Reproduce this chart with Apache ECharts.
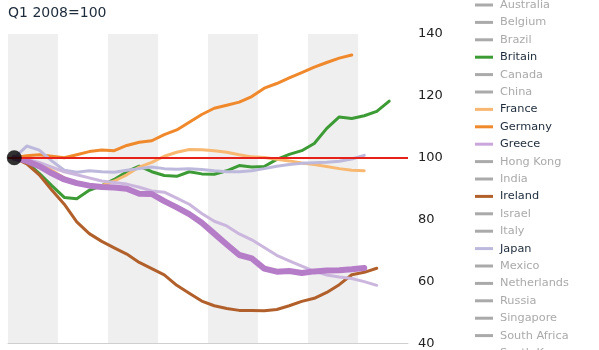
<!DOCTYPE html>
<html>
<head>
<meta charset="utf-8">
<script src="https://cdn.jsdelivr.net/npm/echarts@6/dist/echarts.min.js"></script>
<style>
  html, body { margin: 0; padding: 0; background: #fff; }
  #chart { width: 599px; height: 350px; }
</style>
</head>
<body>
<div id="chart"></div>
<script>
// quarters, Q1 2008 = 100
var quarters = [
  '2008 Q1', '2008 Q2', '2008 Q3', '2008 Q4', '2009 Q1', '2009 Q2', '2009 Q3', '2009 Q4',
  '2010 Q1', '2010 Q2', '2010 Q3', '2010 Q4', '2011 Q1', '2011 Q2', '2011 Q3', '2011 Q4',
  '2012 Q1', '2012 Q2', '2012 Q3', '2012 Q4', '2013 Q1', '2013 Q2', '2013 Q3', '2013 Q4',
  '2014 Q1', '2014 Q2', '2014 Q3', '2014 Q4', '2015 Q1', '2015 Q2', '2015 Q3', '2015 Q4'
]

var countries = ['Australia', 'Belgium', 'Brazil', 'Britain', 'Canada', 'China', 'France', 'Germany',
  'Greece', 'Hong Kong', 'India', 'Ireland', 'Israel', 'Italy', 'Japan', 'Mexico', 'Netherlands',
  'Russia', 'Singapore', 'South Africa', 'South Korea', 'Spain', 'Sweden', 'Switzerland', 'United States']

var shown = ['Britain', 'France', 'Germany', 'Greece', 'Ireland', 'Japan', 'Spain']

var britain = [100, 98.5, 95, 91, 87.2, 86.8, 89.5, 91, 93, 95.5, 97.3, 95.5, 94.3, 94, 95.5, 94.8,
  94.7, 95.8, 97.5, 97, 97.2, 99.5, 101.1, 102.3, 104.6, 109.5, 113.2, 112.7, 113.6, 115, 118.3]
var france = [100, 99.5, 98, 96, 93.5, 92, 91, 91, 92.5, 94.5, 97, 98.5, 100.5, 101.8, 102.7, 102.6,
  102.3, 101.8, 101, 100.3, 100.1, 99.5, 99, 98.3, 97.8, 97.2, 96.5, 96, 95.8]
var germany = [100, 100.7, 101, 100.5, 100, 101, 102, 102.5, 102.3, 104, 105, 105.5, 107.5, 109, 111.5, 114,
  116, 117, 118, 119.8, 122.5, 124, 125.8, 127.5, 129.3, 130.8, 132.2, 133.2]
var greece = [100, 99, 97.3, 95, 93, 91.8, 91, 90.6, 90.4, 90, 88.4, 88.3, 86, 84, 81.8, 79,
  75.5, 72, 68.6, 67.5, 64.2, 63.2, 63.4, 62.8, 63.3, 63.6, 63.7, 64, 64.4]
var ireland = [100, 98, 94.5, 89.6, 85, 79.3, 75.5, 73, 70.9, 68.9, 66.2, 64.2, 62.2, 58.8, 56.2, 53.7,
  52.2, 51.3, 50.7, 50.7, 50.6, 51, 52.2, 53.6, 54.6, 56.5, 59, 62.2, 63, 64.3]
var japan = [100, 103.8, 102.5, 99, 96, 95.3, 95.8, 95.5, 95.3, 96, 96.5, 97, 96.5, 96.3, 96.5, 96.2,
  95.8, 95.5, 95.5, 95.8, 96.5, 97.3, 97.8, 98.2, 98.4, 98.6, 98.9, 99.6, 100.8]
var spain = [100, 99.5, 98.5, 97, 95.5, 94.5, 93.5, 92.5, 92, 91.5, 90.5, 89.3, 88.9, 87, 85, 82,
  79.5, 78, 75.4, 73.5, 71, 68.5, 66.7, 65, 63.4, 62.1, 61.5, 61, 60, 58.8]

var baseValue = 100
var startPoint = [[0, 100]]

var myChart = echarts.init(document.getElementById('chart'))

var font = 'DejaVu Sans'
var lines = {
  Britain: {data: britain, color: '#3d9b35', width: 3},
  France: {data: france, color: '#f8b872', width: 3},
  Germany: {data: germany, color: '#f0892c', width: 3},
  Greece: {data: greece, color: '#b57cc7', icon: '#caa6dc', width: 6},
  Ireland: {data: ireland, color: '#b1602b', width: 3},
  Japan: {data: japan, color: '#bdb9dc', width: 3},
  Spain: {data: spain, color: '#cbb6de', width: 3}
}

var selected = {}
var series = []
countries.forEach(function (name) {
  selected[name] = shown.indexOf(name) >= 0
  var l = lines[name]
  series.push({
    name: name,
    type: 'line',
    data: l ? l.data : [],
    symbol: 'none',
    silent: true,
    z: name === 'Greece' ? 3 : 2,
    itemStyle: {color: l ? (l.icon || l.color) : '#999'},
    lineStyle: {color: l ? l.color : '#999', width: l ? l.width : 3, cap: 'round', join: 'round'}
  })
})

// red 100 line
series.push({
  name: 'base',
  type: 'line',
  data: [],
  z: 1,
  markLine: {
    silent: true,
    symbol: ['none', 'none'],
    label: {show: false},
    lineStyle: {color: '#e8201a', width: 2, type: 'solid'},
    data: [{yAxis: baseValue}]
  }
})

// start dot
series.push({
  name: 'start',
  type: 'scatter',
  data: startPoint,
  symbolSize: 15,
  itemStyle: {color: '#000'},
  z: 10,
  silent: true
})

var option = {
  animation: false,
  title: {
    text: 'Q1 2008=100',
    left: 8,
    top: 6,
    padding: 0,
    textStyle: {fontFamily: font, fontSize: 14, fontWeight: 'normal', color: '#1d2b3a'}
  },
  legend: {
    orient: 'vertical',
    left: 475,
    top: -2,
    height: 600,
    padding: 0,
    icon: 'rect',
    itemWidth: 18,
    itemHeight: 3,
    itemGap: 3.4,
    data: countries,
    selected: selected,
    selectedMode: false,
    inactiveColor: '#aaa',
    textStyle: {fontFamily: font, fontSize: 11.3, color: '#1d2b3a', lineHeight: 14, padding: [0, 0, 0, 2]}
  },
  grid: {left: 8, right: 191, top: 34, bottom: 4},
  xAxis: {
    type: 'category',
    data: quarters,
    boundaryGap: true,
    axisLine: {lineStyle: {color: '#cfcfcf'}},
    axisTick: {interval: 3, length: 5, lineStyle: {color: '#cfcfcf'}},
    axisLabel: {show: false},
    splitLine: {show: false},
    splitArea: {show: true, interval: 3, areaStyle: {color: ['#efefef', '#ffffff']}}
  },
  yAxis: {
    type: 'value',
    position: 'right',
    min: 40,
    max: 140,
    interval: 20,
    axisLine: {show: false},
    axisTick: {show: false},
    axisLabel: {margin: 10, color: '#222', fontSize: 13, fontFamily: font},
    splitLine: {lineStyle: {color: '#d3d3d3'}}
  },
  series: series
}
myChart.setOption(option)
</script>
</body>
</html>
